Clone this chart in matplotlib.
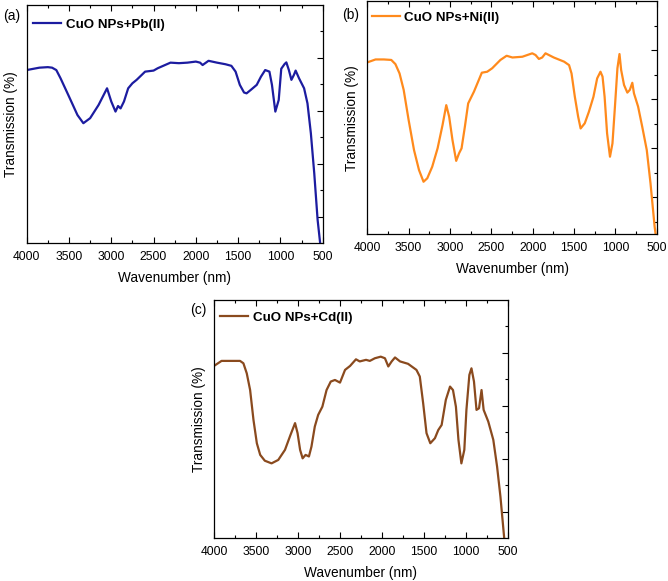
import matplotlib
matplotlib.use('Agg')
import matplotlib.pyplot as plt
from matplotlib.ticker import MultipleLocator

plt.rcParams['font.family'] = ['Liberation Sans', 'DejaVu Sans']
plt.rcParams['axes.linewidth'] = 0.9
plt.rcParams['xtick.direction'] = 'in'
plt.rcParams['ytick.direction'] = 'in'

# --- 数据：从图中读取 (波数, 透过率) ---
wn_pb = [4000, 3850, 3750, 3700, 3650, 3600, 3500, 3400, 3330, 3250, 3150, 3050, 3000,
         2950, 2920, 2890, 2850, 2800, 2750, 2700, 2600, 2500, 2450, 2300, 2200, 2100,
         2000, 1950, 1920, 1850, 1750, 1650, 1580, 1530, 1480, 1430, 1400, 1350, 1280,
         1230, 1180, 1130, 1100, 1060, 1020, 990, 950, 930, 900, 870, 840, 820, 780,
         720, 680, 640, 600, 560, 530, 515]
t_pb = [65.4, 66.3, 66.5, 66.3, 65.4, 62.3, 55.4, 48.4, 45.3, 47.2, 52.2, 58.5, 53.5,
        49.7, 51.8, 50.9, 53.5, 58.5, 60.4, 61.7, 64.8, 65.2, 66.1, 68.2, 68.0, 68.2,
        68.6, 68.2, 67.3, 68.9, 68.2, 67.6, 67.0, 64.8, 59.8, 56.9, 56.6, 57.9, 59.8,
        62.9, 65.4, 64.8, 59.8, 49.7, 54.1, 65.9, 67.7, 68.3, 65.4, 61.7, 63.6, 65.2, 62.3,
        58.5, 52.8, 41.5, 26.4, 8.7, -0.1, -8]

wn_ni = [4000, 3900, 3800, 3710, 3660, 3610, 3560, 3500, 3435, 3375, 3320, 3275, 3215,
         3150, 3090, 3045, 3010, 2970, 2925, 2890, 2860, 2820, 2780, 2710, 2615, 2550,
         2490, 2390, 2315, 2245, 2125, 2005, 1965, 1925, 1885, 1845, 1745, 1620, 1560,
         1530, 1490, 1450, 1420, 1370, 1320, 1265, 1220, 1180, 1155, 1130, 1100, 1065,
         1035, 1005, 975, 950, 930, 895, 855, 825, 795, 775, 725, 675, 620, 575, 525, 505]
t_ni = [70.0, 71.2, 71.2, 71.0, 69.3, 65.5, 58.8, 46.5, 34.3, 26.2, 21.4, 22.8, 27.5,
        35.0, 44.5, 52.6, 47.9, 38.4, 29.9, 33.0, 35.0, 43.8, 53.3, 58.1, 65.8, 66.2,
        67.6, 71.0, 72.7, 72.0, 72.3, 73.7, 73.0, 71.4, 72.0, 73.7, 72.0, 70.3, 68.9,
        65.5, 56.0, 47.9, 43.1, 45.2, 49.9, 56.0, 63.5, 66.2, 64.2, 56.0, 41.1, 31.6,
        37.0, 52.0, 67.6, 73.4, 66.9, 60.8, 57.7, 58.8, 61.7, 57.4, 52.0, 43.8, 34.3, 20.8, 3.1, -2]

wn_cd = [4000, 3910, 3690, 3650, 3610, 3570, 3530, 3490, 3450, 3395, 3315, 3235, 3155,
         3090, 3035, 3005, 2975, 2945, 2910, 2870, 2840, 2800, 2760, 2710, 2660, 2610,
         2560, 2500, 2440, 2380, 2310, 2265, 2190, 2145, 2085, 2015, 1965, 1925, 1885,
         1845, 1785, 1690, 1590, 1550, 1510, 1470, 1425, 1370, 1330, 1290, 1240, 1190,
         1155, 1120, 1090, 1055, 1020, 995, 960, 935, 905, 875, 845, 815, 790, 735, 675,
         630, 590, 545, 530]
t_cd = [65.1, 67.0, 67.0, 66.1, 62.3, 56.0, 44.7, 35.9, 31.5, 29.3, 28.3, 29.6, 33.4,
        39.0, 43.5, 39.7, 33.4, 30.2, 31.5, 30.9, 34.6, 42.2, 46.6, 49.7, 56.0, 59.2,
        59.8, 58.8, 63.6, 65.1, 67.6, 66.8, 67.4, 67.0, 68.0, 68.6, 68.0, 64.9, 66.8,
        68.3, 66.8, 65.9, 63.6, 61.1, 51.0, 39.7, 35.9, 37.8, 40.9, 42.8, 52.3, 57.3,
        56.0, 49.7, 37.2, 28.3, 33.4, 48.5, 61.7, 64.2, 59.2, 48.5, 49.1, 56.0, 48.5, 44.1, 37.2,
        27.1, 15.7, 0.0, -6]

W, H = 668, 581
fig = plt.figure(figsize=(W / 100, H / 100), dpi=100)


def px_axes(l, t, r, b):
    return fig.add_axes([l / W, 1 - b / H, (r - l) / W, (b - t) / H])


panels = [
    # 像素框 (左, 上, 右, 下), 数据, 颜色, 标签, 编号及其像素位置, 图例偏移(px), y 轴设置
    ((26.7, 5, 322.7, 243), wn_pb, t_pb, '#1c1ca0', 'CuO NPs+Pb(II)', '(a)', (12, 16), (6.5, 20),
     (0, 90), [10, 30, 50, 70], [20, 40, 60, 80]),
    ((367.3, 1, 656.7, 234.3), wn_ni, t_ni, '#ff8a1c', 'CuO NPs+Ni(II)', '(b)', (351, 15), (4.5, 17),
     (0, 95), [15, 35, 55, 75], [5, 25, 45, 65, 85]),
    ((214, 300, 508, 538.3), wn_cd, t_cd, '#8a4a1e', 'CuO NPs+Cd(II)', '(c)', (198, 310), (6, 17.7),
     (0, 90), [10, 30, 50, 70], [20, 40, 60, 80]),
]

for box, wn, t, color, label, tag, tagpos, legoff, ylim, ymaj, ymin in panels:
    ax = px_axes(*box)
    w_px, h_px = box[2] - box[0], box[3] - box[1]
    ax.plot(wn, t, color=color, lw=1.6, label=label, solid_joinstyle='round')
    ax.set_xlim(4000, 500)
    ax.set_ylim(*ylim)
    ax.xaxis.set_major_locator(MultipleLocator(500))
    ax.xaxis.set_minor_locator(MultipleLocator(250))
    ax.set_yticks(ymaj)
    ax.set_yticks(ymin, minor=True)
    ax.tick_params(axis='x', which='both', top=True, bottom=True, labelsize=8.7, pad=5.5)
    ax.tick_params(axis='y', which='both', left=False, right=True, labelleft=False)
    ax.tick_params(which='major', length=4, width=0.8)
    ax.tick_params(which='minor', length=2.5, width=0.8)
    ax.set_xlabel('Wavenumber (nm)', fontsize=9.8, labelpad=6)
    ax.set_ylabel('Transmission (%)', fontsize=9.8, labelpad=6)
    ax.legend(loc='center left', bbox_to_anchor=(legoff[0] / w_px, 1 - legoff[1] / h_px),
              frameon=False, handlelength=2.1, handletextpad=0.35, borderpad=0,
              borderaxespad=0, prop={'weight': 'bold', 'size': 9.6})
    fig.text(tagpos[0] / W, 1 - tagpos[1] / H, tag, fontsize=10, ha='center', va='center')

fig.savefig('out.png', dpi=100)
